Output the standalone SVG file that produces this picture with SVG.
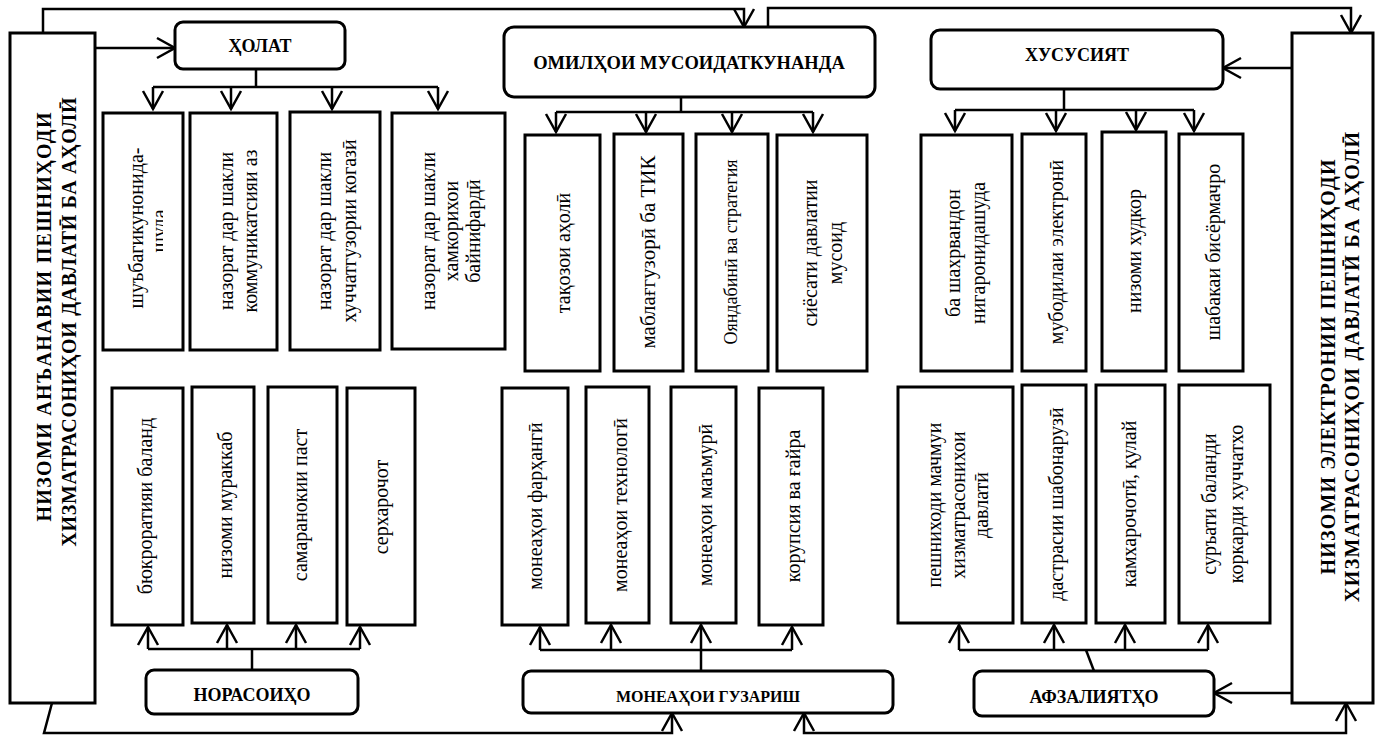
<svg xmlns="http://www.w3.org/2000/svg" width="1378" height="735" viewBox="0 0 1378 735">
<style>
.bx{fill:#fff;stroke:#000;stroke-width:3}
.hd{fill:#fff;stroke:#000;stroke-width:3}
.t{font-family:"Liberation Serif","Times New Roman",serif;font-size:20px;fill:#000}
.h{font-family:"Liberation Serif","Times New Roman",serif;font-size:18px;font-weight:bold;fill:#000;text-anchor:middle}
.tt{font-family:"Liberation Serif","Times New Roman",serif;font-size:20px;font-weight:bold;fill:#000}
.c{fill:none;stroke:#000;stroke-width:2.5}
.a{fill:none;stroke:#000;stroke-width:2.5;marker-end:url(#arr)}
</style>
<defs>
<marker id="arr" markerUnits="userSpaceOnUse" markerWidth="24" markerHeight="24" viewBox="-20 -12 24 24" refX="0" refY="0" orient="auto-start-reverse">
<path d="M-18,-10 L0,0 L-18,10" fill="none" stroke="#000" stroke-width="2.5"/>
</marker>
<clipPath id="clip1"><rect x="103" y="113" width="60" height="237"/></clipPath>
</defs>

<g id="connectors">
<polyline class="a" points="43,33 43,9 744,9 744,27"/>
<polyline class="a" points="768,27 768,8 1351,8 1351,33"/>
<line class="a" x1="95" y1="48" x2="175" y2="48"/>
<line class="a" x1="1292" y1="68" x2="1223" y2="68"/>
<line class="a" x1="1292" y1="693" x2="1214" y2="693"/>
<polyline class="a" points="52,703 44,733 672,733 672,713"/>
<polyline class="a" style="marker-start:url(#arr)" points="804,713 804,733 1346,733 1346,703"/>
<line class="c" x1="256" y1="69" x2="256" y2="87"/>
<line class="c" x1="153" y1="87" x2="438" y2="87"/>
<line class="a" x1="153" y1="87" x2="153" y2="109"/>
<line class="a" x1="231" y1="87" x2="231" y2="109"/>
<line class="a" x1="332" y1="87" x2="332" y2="109"/>
<line class="a" x1="438" y1="87" x2="438" y2="109"/>
<line class="c" x1="681" y1="97" x2="681" y2="112"/>
<line class="c" x1="556" y1="112" x2="813" y2="112"/>
<line class="a" x1="556" y1="112" x2="556" y2="132"/>
<line class="a" x1="646" y1="112" x2="646" y2="132"/>
<line class="a" x1="732" y1="112" x2="732" y2="132"/>
<line class="a" x1="813" y1="112" x2="813" y2="132"/>
<line class="c" x1="1064" y1="89" x2="1064" y2="110"/>
<line class="c" x1="955" y1="110" x2="1194" y2="110"/>
<line class="a" x1="955" y1="110" x2="955" y2="131"/>
<line class="a" x1="1056" y1="110" x2="1056" y2="131"/>
<line class="a" x1="1136" y1="110" x2="1136" y2="130"/>
<line class="a" x1="1194" y1="110" x2="1194" y2="131"/>
<line class="c" x1="252" y1="670" x2="252" y2="649"/>
<line class="c" x1="148" y1="649" x2="360" y2="649"/>
<line class="a" x1="148" y1="649" x2="148" y2="627"/>
<line class="a" x1="227" y1="649" x2="227" y2="625"/>
<line class="a" x1="296" y1="649" x2="296" y2="625"/>
<line class="a" x1="360" y1="649" x2="360" y2="627"/>
<line class="c" x1="701" y1="671" x2="701" y2="650"/>
<line class="c" x1="540" y1="650" x2="792" y2="650"/>
<line class="a" x1="540" y1="650" x2="540" y2="627"/>
<line class="a" x1="611" y1="650" x2="611" y2="625"/>
<line class="a" x1="701" y1="650" x2="701" y2="625"/>
<line class="a" x1="792" y1="650" x2="792" y2="627"/>
<line class="c" x1="1094" y1="671" x2="1086" y2="650"/>
<line class="c" x1="959" y1="650" x2="1208" y2="650"/>
<line class="a" x1="959" y1="650" x2="959" y2="625"/>
<line class="a" x1="1054" y1="650" x2="1054" y2="625"/>
<line class="a" x1="1125" y1="650" x2="1125" y2="625"/>
<line class="a" x1="1208" y1="650" x2="1208" y2="625"/>
</g>

<g id="left-system">
<rect class="bx" x="10" y="33" width="85" height="670"/>
<text class="tt" transform="translate(51,317) rotate(-90)" text-anchor="middle" textLength="409" lengthAdjust="spacing">НИЗОМИ АНЪАНАВИИ ПЕШНИҲОДИ</text>
<text class="tt" transform="translate(76,322) rotate(-90)" text-anchor="middle" textLength="449" lengthAdjust="spacing">ХИЗМАТРАСОНИҲОИ ДАВЛАТӢ БА АҲОЛӢ</text>
</g>

<g id="right-system">
<rect class="bx" x="1292" y="33" width="81" height="670"/>
<text class="tt" transform="translate(1335,367) rotate(-90)" text-anchor="middle" textLength="415" lengthAdjust="spacing">НИЗОМИ ЭЛЕКТРОНИИ  ПЕШНИҲОДИ</text>
<text class="tt" transform="translate(1359,367) rotate(-90)" text-anchor="middle" textLength="470" lengthAdjust="spacing">ХИЗМАТРАСОНИҲОИ ДАВЛАТӢ БА АҲОЛӢ</text>
</g>

<g id="holat"><rect class="hd" x="175" y="22" width="170" height="47" rx="8"/><text class="h" x="260" y="52">ҲОЛАТ</text></g>
<g id="omilhoi"><rect class="hd" x="504" y="27" width="371" height="70" rx="10"/><text class="h" style="font-size:18.5px" x="689" y="69">ОМИЛҲОИ МУСОИДАТКУНАНДА</text></g>
<g id="xususiyat"><rect class="hd" x="931" y="30" width="292" height="59" rx="9"/><text class="h" x="1077" y="61">ХУСУСИЯТ</text></g>
<g id="norasoiho"><rect class="hd" x="146" y="670" width="212" height="44" rx="8"/><text class="h" x="252" y="701">НОРАСОИҲО</text></g>
<g id="moneahoi"><rect class="hd" x="523" y="671" width="370" height="42" rx="8"/><text class="h" style="font-size:16px" x="708" y="702">МОНЕАҲОИ ГУЗАРИШ</text></g>
<g id="afzaliyatho"><rect class="hd" x="974" y="671" width="240" height="45" rx="8"/><text class="h" x="1094" y="703">АФЗАЛИЯТҲО</text></g>

<g id="h1"><rect class="bx" x="103" y="113" width="80" height="237"/>
<text class="t" transform="translate(143,228) rotate(-90)" text-anchor="middle">шуъбагикунонида-</text>
<g clip-path="url(#clip1)"><text class="t" transform="translate(166,231) rotate(-90)" text-anchor="middle">шуда</text></g></g>
<g id="h2"><rect class="bx" x="190" y="113" width="87" height="237"/>
<text class="t" transform="translate(233,231) rotate(-90)" text-anchor="middle"><tspan x="0" y="0">назорат дар шакли</tspan><tspan x="0" y="24">коммуникатсияи аз</tspan></text></g>
<g id="h3"><rect class="bx" x="290" y="112" width="90" height="238"/>
<text class="t" transform="translate(331,231) rotate(-90)" text-anchor="middle"><tspan x="0" y="0">назорат дар шакли</tspan><tspan x="0" y="25">хуччатгузории когазӣ</tspan></text></g>
<g id="h4"><rect class="bx" x="392" y="113" width="113" height="236"/>
<text class="t" transform="translate(435,231) rotate(-90)" text-anchor="middle"><tspan x="0" y="0">назорат дар шакли</tspan><tspan x="0" y="23">хамкорихои</tspan><tspan x="0" y="45">байнифардӣ</tspan></text></g>

<g id="o1"><rect class="bx" x="525" y="135" width="75" height="236"/>
<text class="t" transform="translate(570,253) rotate(-90)" text-anchor="middle">тақозои аҳолӣ</text></g>
<g id="o2"><rect class="bx" x="614" y="134" width="69" height="237"/>
<text class="t" style="font-size:21px" transform="translate(655,252) rotate(-90)" text-anchor="middle">маблағгузорӣ ба ТИК</text></g>
<g id="o3"><rect class="bx" x="696" y="134" width="72" height="237"/>
<text class="t" style="font-size:18px" transform="translate(737,252) rotate(-90)" text-anchor="middle">Ояндабинӣ ва стратегия</text></g>
<g id="o4"><rect class="bx" x="777" y="135" width="90" height="236"/>
<text class="t" transform="translate(817,253) rotate(-90)" text-anchor="middle"><tspan x="0" y="0">сиёсати давлатии</tspan><tspan x="0" y="25">мусоид</tspan></text></g>

<g id="x1"><rect class="bx" x="921" y="135" width="91" height="236"/>
<text class="t" transform="translate(960,253) rotate(-90)" text-anchor="middle"><tspan x="0" y="0">ба шахрвандон</tspan><tspan x="0" y="25">нигаронидашуда</tspan></text></g>
<g id="x2"><rect class="bx" x="1022" y="134" width="64" height="237"/>
<text class="t" transform="translate(1063,252) rotate(-90)" text-anchor="middle">мубодилаи электронӣ</text></g>
<g id="x3"><rect class="bx" x="1102" y="132" width="64" height="239"/>
<text class="t" transform="translate(1141,251) rotate(-90)" text-anchor="middle">низоми худкор</text></g>
<g id="x4"><rect class="bx" x="1179" y="134" width="64" height="237"/>
<text class="t" transform="translate(1220,252) rotate(-90)" text-anchor="middle">шабакаи бисёрмачро</text></g>

<g id="n1"><rect class="bx" x="112" y="388" width="71" height="237"/>
<text class="t" transform="translate(152,506) rotate(-90)" text-anchor="middle">бюкроратияи баланд</text></g>
<g id="n2"><rect class="bx" x="192" y="387" width="62" height="236"/>
<text class="t" transform="translate(232,505) rotate(-90)" text-anchor="middle">низоми мураккаб</text></g>
<g id="n3"><rect class="bx" x="268" y="387" width="69" height="236"/>
<text class="t" transform="translate(307,505) rotate(-90)" text-anchor="middle">самаранокии паст</text></g>
<g id="n4"><rect class="bx" x="347" y="388" width="68" height="237"/>
<text class="t" transform="translate(388,507) rotate(-90)" text-anchor="middle">серхарочот</text></g>

<g id="m1"><rect class="bx" x="502" y="388" width="66" height="237"/>
<text class="t" transform="translate(542,506) rotate(-90)" text-anchor="middle">монеаҳои фарҳангӣ</text></g>
<g id="m2"><rect class="bx" x="586" y="387" width="63" height="236"/>
<text class="t" transform="translate(627,505) rotate(-90)" text-anchor="middle">монеаҳои технологӣ</text></g>
<g id="m3"><rect class="bx" x="671" y="387" width="65" height="236"/>
<text class="t" transform="translate(712,505) rotate(-90)" text-anchor="middle">монеаҳои маъмурӣ</text></g>
<g id="m4"><rect class="bx" x="759" y="388" width="64" height="237"/>
<text class="t" transform="translate(800,506) rotate(-90)" text-anchor="middle">корупсия ва ғайра</text></g>

<g id="a1"><rect class="bx" x="898" y="387" width="115" height="236"/>
<text class="t" transform="translate(941,505) rotate(-90)" text-anchor="middle"><tspan x="0" y="0">пешниходи мачмуи</tspan><tspan x="0" y="24">хизматрасонихои</tspan><tspan x="0" y="47">давлатӣ</tspan></text></g>
<g id="a2"><rect class="bx" x="1022" y="385" width="64" height="238"/>
<text class="t" transform="translate(1063,504) rotate(-90)" text-anchor="middle">дастрасии шабонарузӣ</text></g>
<g id="a3"><rect class="bx" x="1096" y="385" width="69" height="238"/>
<text class="t" transform="translate(1136,504) rotate(-90)" text-anchor="middle">камхарочотӣ, қулай</text></g>
<g id="a4"><rect class="bx" x="1179" y="385" width="91" height="238"/>
<text class="t" transform="translate(1216,504) rotate(-90)" text-anchor="middle"><tspan x="0" y="0">суръати баланди</tspan><tspan x="0" y="27">коркарди хуччатхо</tspan></text></g>
</svg>
